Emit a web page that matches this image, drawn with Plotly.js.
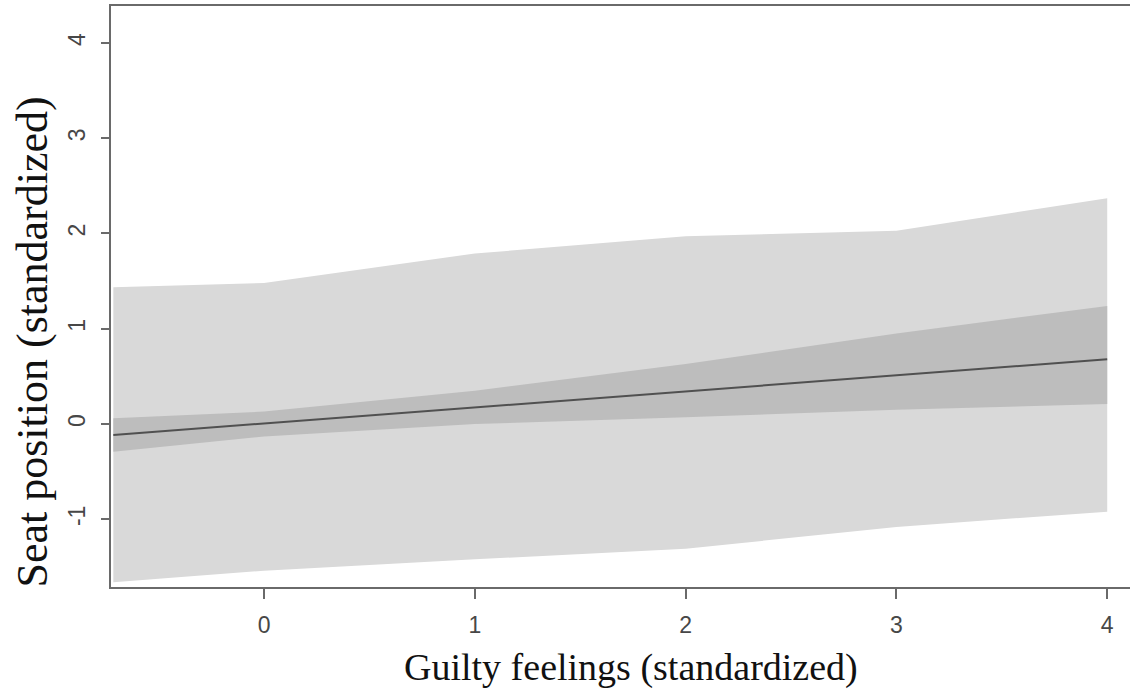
<!DOCTYPE html>
<html>
<head>
<meta charset="utf-8">
<script src="https://cdn.plot.ly/plotly-3.0.1.min.js"></script>
<style>html,body{margin:0;padding:0;background:#fff;overflow:hidden;}#chart{width:1130px;height:692px;}</style>
</head>
<body>
<div id="chart"></div>
<script>
// Guilty feelings (standardized) knots
var guilt = [-0.715, 0, 1, 2, 3, 4];
// Predicted seat position
var fitted = [-0.115, 0.005, 0.17, 0.34, 0.51, 0.68];
// Inner (darker) band
var innerLower = [-0.29, -0.13, 0.0, 0.07, 0.15, 0.21];
var innerUpper = [0.06, 0.13, 0.35, 0.63, 0.95, 1.24];
// Outer (lighter) band
var outerLower = [-1.66, -1.54, -1.42, -1.31, -1.08, -0.92];
var outerUpper = [1.435, 1.48, 1.79, 1.97, 2.03, 2.37];

var xTicks = [0, 1, 2, 3, 4];
var yTicks = [-1, 0, 1, 2, 3, 4];
var xTitle = 'Guilty feelings (standardized)';
var yTitle = 'Seat position (standardized)';

var traces = [
  {x: guilt, y: outerLower, mode: 'lines', line: {width: 0, color: 'rgba(0,0,0,0)'}, hoverinfo: 'skip', showlegend: false},
  {x: guilt, y: outerUpper, mode: 'lines', fill: 'tonexty', fillcolor: '#d9d9d9', line: {width: 0, color: 'rgba(0,0,0,0)'}, hoverinfo: 'skip', showlegend: false},
  {x: guilt, y: innerLower, mode: 'lines', line: {width: 0, color: 'rgba(0,0,0,0)'}, hoverinfo: 'skip', showlegend: false},
  {x: guilt, y: innerUpper, mode: 'lines', fill: 'tonexty', fillcolor: '#bdbdbd', line: {width: 0, color: 'rgba(0,0,0,0)'}, hoverinfo: 'skip', showlegend: false},
  {x: guilt, y: fitted, mode: 'lines', line: {width: 2, color: '#505050'}, showlegend: false}
];

var serif = 'Liberation Serif, Times New Roman, serif';
var layout = {
  width: 1130, height: 692,
  margin: {l: 111, r: 0, t: 6, b: 105},
  paper_bgcolor: '#ffffff', plot_bgcolor: '#ffffff',
  showlegend: false,
  xaxis: {
    range: [-0.726, 4.108],
    tickvals: xTicks, ticktext: xTicks.map(String),
    showgrid: false, zeroline: false,
    showline: true, mirror: true, linecolor: '#6a6a6a', linewidth: 2,
    ticks: 'outside', ticklen: 10, tickwidth: 2, tickcolor: '#6a6a6a',
    ticklabelstandoff: 6,
    tickfont: {family: 'Liberation Sans, Arial, sans-serif', size: 23, color: '#474747'}
  },
  yaxis: {
    range: [-1.711, 4.388],
    tickvals: yTicks, ticktext: yTicks.map(String),
    showgrid: false, zeroline: false,
    showline: true, mirror: false, linecolor: '#6a6a6a', linewidth: 2,
    ticks: 'outside', ticklen: 8, tickwidth: 2, tickcolor: '#6a6a6a',
    tickangle: -90, ticklabelstandoff: 7,
    tickfont: {family: 'Liberation Sans, Arial, sans-serif', size: 23, color: '#474747'}
  },
  annotations: [
    {text: xTitle, xref: 'paper', yref: 'paper', x: 0.510, y: -0.1377,
     xanchor: 'center', yanchor: 'middle', showarrow: false,
     font: {family: serif, size: 38, color: '#111111'}},
    {text: yTitle, xref: 'paper', yref: 'paper', x: -0.077, y: 0.4217,
     xanchor: 'center', yanchor: 'middle', textangle: -90, showarrow: false,
     font: {family: serif, size: 44, color: '#111111'}}
  ]
};

Plotly.newPlot('chart', traces, layout, {displayModeBar: false, staticPlot: true});
</script>
</body>
</html>
